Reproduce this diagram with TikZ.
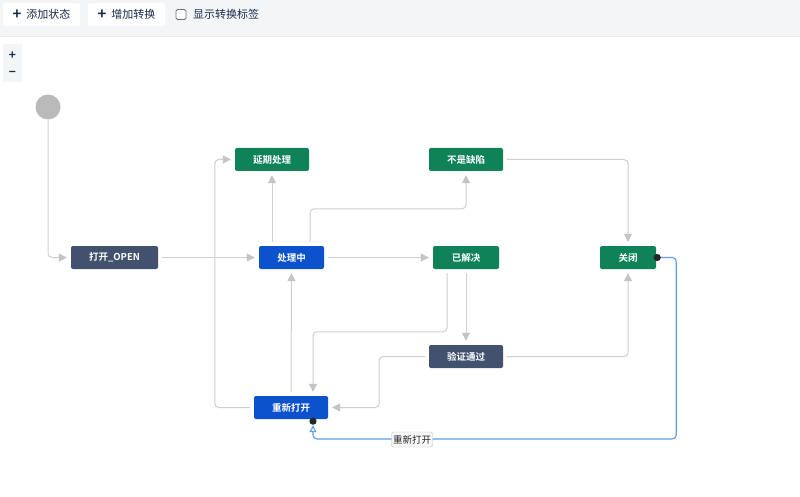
\documentclass[tikz,border=0pt]{standalone}
\usepackage{fontspec}
\setmainfont{Noto Sans CJK SC}[BoldFont={Noto Sans CJK SC Bold}]
\usetikzlibrary{arrows.meta,calc}
\definecolor{slate}{HTML}{42526E}
\definecolor{jblue}{HTML}{0B52CC}
\definecolor{jgreen}{HTML}{0F8257}
\definecolor{lgray}{HTML}{CFCFCF}
\definecolor{tip}{HTML}{C4C4C4}
\definecolor{bar}{HTML}{F4F5F7}
\definecolor{lblue}{HTML}{5A9EF5}
\definecolor{ink}{HTML}{172B4D}
\tikzset{
  state/.style={rounded corners=2pt, minimum height=23pt, inner sep=0pt, text=white, font=\fontsize{9.5}{10}\selectfont\bfseries},
  conn/.style={draw=lgray, line width=1pt, rounded corners=4pt, shorten >=4pt, shorten <=4pt, -{Triangle[length=8pt,width=8pt,fill=tip,color=tip]}},
  btn/.style={fill=white, rounded corners=2pt, minimum height=23pt, inner sep=0pt, text=ink, font=\fontsize{11}{12}\selectfont},
}
\begin{document}
\begin{tikzpicture}[x=1pt,y=-1pt]
\useasboundingbox (0,0) rectangle (800,497);
\fill[white] (0,0) rectangle (800,497);
% toolbar
\fill[bar] (0,0) rectangle (800,36);
\draw[color=black!8] (0,36) -- (800,36);
\node[btn, minimum width=77pt] (b1) at (41.5,14.5) {\raisebox{-1.5pt}{\fontsize{15}{12}\selectfont\bfseries +}\hspace{5pt}添加状态};
\node[btn, minimum width=77pt] (b2) at (126.5,14.5) {\raisebox{-1.5pt}{\fontsize{15}{12}\selectfont\bfseries +}\hspace{5pt}增加转换};
\node[draw=black!55, rounded corners=1.5pt, minimum size=10pt, inner sep=0pt, fill=white, line width=0.8pt] (cb) at (181,14.5) {};
\node[anchor=west, text=ink, font=\fontsize{11}{12}\selectfont, inner sep=0pt] (cbl) at (193,14.5) {显示转换标签};
% zoom panel
\fill[bar] (3,44) rectangle (22,82);
\node[text=ink, font=\fontsize{12}{12}\selectfont\bfseries, inner sep=0pt] (zp) at (12.5,56) {+};
\node[text=ink, font=\fontsize{12}{12}\selectfont\bfseries, inner sep=0pt] (zm) at (12.5,74) {\textminus};
% start
\node[circle, fill=black!27, minimum size=25pt, inner sep=0pt] (start) at (48,107) {};
% states
\node[state, fill=slate, minimum width=87pt] (open) at (114.5,257.5) {打开\_OPEN};
\node[state, fill=jblue, minimum width=65pt] (proc) at (291.5,257.5) {处理中};
\node[state, fill=jgreen, minimum width=74pt] (delay) at (272,159.5) {延期处理};
\node[state, fill=jgreen, minimum width=74pt] (notbug) at (466,159.5) {不是缺陷};
\node[state, fill=jgreen, minimum width=66pt] (res) at (466,257.5) {已解决};
\node[state, fill=jgreen, minimum width=56pt] (close) at (628,257.5) {关闭};
\node[state, fill=slate, minimum width=74pt] (ver) at (466,356.5) {验证通过};
\node[state, fill=jblue, minimum width=74pt] (reop) at (291,407.5) {重新打开};
% connectors
\draw[conn, shorten <=0pt] (start.south) |- (open.west);
\draw[conn] (open.east) -- (proc.west);
\draw[conn] ($(proc.north)+(-19.5,0)$) -- (delay.south);
\draw[conn] ($(proc.north)+(18.5,0)$) -- ($(proc.north)+(18.5,-37)$) -| (notbug.south);
\draw[conn] (proc.east) -- (res.west);
\draw[conn] (notbug.east) -| (close.north);
\draw[conn] ($(res.south)+(-19,0)$) |- ($(reop.north)+(22,-64)$) -- ($(reop.north)+(22,0)$);
\draw[conn] (res.south) -- (ver.north);
\draw[conn] (ver.east) -| (close.south);
\draw[conn] (ver.west) -| ($(reop.east)+(51,0)$) -- (reop.east);
\draw[conn] (reop.west) -| ($(delay.west)+(-20,0)$) -- (delay.west);
\draw[conn] (reop.north) -- (proc.south);
% reopen transition
\coordinate (cdot) at ($(close.east)+(1,0)$);
\coordinate (rdot) at ($(reop.south)+(22,2)$);
\draw[lblue, line width=1.1pt, rounded corners=4pt, -{Triangle[open,length=7pt,width=7pt,fill=white]}] (cdot) -| ($(close.east)+(20,181.5)$) -| ($(rdot)+(0,4)$);
\fill[black!85] (cdot) circle (3.6pt);
\fill[black!85] (rdot) circle (3.6pt);
\node[draw=black!25, fill=black!3, rounded corners=2pt, inner sep=1.5pt, minimum height=15pt, text=black!85, font=\fontsize{9.5}{10}\selectfont] (lbl) at (412,439.5) {重新打开};
\end{tikzpicture}
\end{document}
